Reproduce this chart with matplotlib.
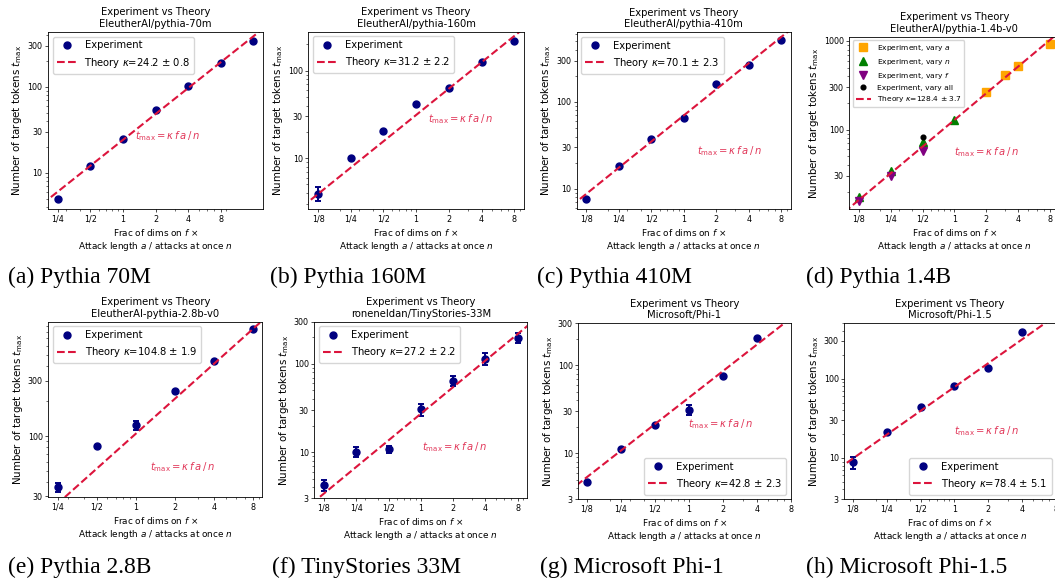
import numpy as np
import matplotlib
matplotlib.use('Agg')
import matplotlib.pyplot as plt
from matplotlib.ticker import NullFormatter

W, H = 1055, 580

x_ticks = [1 / 8, 1 / 4, 1 / 2, 1, 2, 4, 8]
x_tick_labels = ['1/8', '1/4', '1/2', '1', '2', '4', '8']

# (a) pythia-70m
x_70m = [1 / 4, 1 / 2, 1, 2, 4, 8, 16]
y_70m = [5.0, 12.0, 24.7, 53.6, 103, 189, 346]
err_70m = [0, 0, 0, 0, 0, 0, 0]

# (b) pythia-160m
x_160m = [1 / 8, 1 / 4, 1 / 2, 1, 2, 4, 8]
y_160m = [3.94, 10.0, 20.5, 41.2, 63.9, 127, 220]
err_160m = [0.7, 0, 0, 0, 0, 0, 0]

# (c) pythia-410m
x_410m = [1 / 8, 1 / 4, 1 / 2, 1, 2, 4, 8]
y_410m = [7.7, 18.4, 37.7, 65.8, 160, 265, 514]
err_410m = [0, 0, 0, 0, 0, 0, 0]

# (d) pythia-1.4b, several series
x_14b_a = [2, 3, 4, 8]
y_14b_a = [264, 409, 516, 918]
x_14b_n = [1 / 8, 1 / 4, 1 / 2, 1]
y_14b_n = [17.4, 34.1, 72.8, 127]
x_14b_f = [1 / 8, 1 / 4, 1 / 2]
y_14b_f = [15.6, 30.0, 57.0]
x_14b_all = [1 / 2]
y_14b_all = [82]

# (e) pythia-2.8b
x_28b = [1 / 4, 1 / 2, 1, 2, 4, 8]
y_28b = [36, 82.6, 124, 243, 444, 837]
err_28b = [3, 0, 12, 8, 0, 0]

# (f) TinyStories-33M
x_ts = [1 / 8, 1 / 4, 1 / 2, 1, 2, 4, 8]
y_ts = [4.2, 10.0, 10.8, 30.5, 64.4, 114, 196]
err_ts = [0.6, 1.3, 1.0, 5, 8, 17, 26]

# (g) Phi-1
x_phi1 = [1 / 8, 1 / 4, 1 / 2, 1, 2, 4]
y_phi1 = [4.7, 11.1, 21.2, 31.3, 76.1, 202]
err_phi1 = [0, 0, 0, 4.3, 0, 0]

# (h) Phi-1.5
x_phi15 = [1 / 8, 1 / 4, 1 / 2, 1, 2, 4]
y_phi15 = [8.75, 21.0, 43.7, 81.7, 136, 390]
err_phi15 = [1.6, 0, 0, 0, 0, 0]

kappas = [24.2, 31.2, 70.1, 128.4, 104.8, 27.2, 42.8, 78.4]
kappa_errs = [0.8, 2.2, 2.3, 3.7, 1.9, 2.2, 2.3, 5.1]
model_names = ['EleutherAI/pythia-70m', 'EleutherAI/pythia-160m', 'EleutherAI/pythia-410m',
               'EleutherAI/pythia-1.4b-v0', 'EleutherAI-pythia-2.8b-v0',
               'roneneldan/TinyStories-33M', 'Microsoft/Phi-1', 'Microsoft/Phi-1.5']
captions = ['(a) Pythia 70M', '(b) Pythia 160M', '(c) Pythia 410M', '(d) Pythia 1.4B',
            '(e) Pythia 2.8B', '(f) TinyStories 33M', '(g) Microsoft Phi-1', '(h) Microsoft Phi-1.5']
y_tick_sets = [[10, 30, 100, 300], [10, 30, 100, 300], [10, 30, 100, 300, 1000],
               [30, 100, 300, 1000], [30, 100, 300, 1000], [3, 10, 30, 100, 300],
               [3, 10, 30, 100, 300], [3, 10, 30, 100, 300]]
ylims = [(3.8, 436), (2.6, 280), (5.8, 635), (12.6, 1117), (29.5, 975), (3, 300), (3, 300), (3, 500)]
xlims = [None, None, None, None, None, None, (0.105, 8), (0.105, 8)]

# layout, pixels: left, top, right, bottom
ax_boxes = [(48, 32, 263, 209), (308.3, 31.7, 524, 209.3), (576.7, 32.3, 791, 209.3),
            (849.3, 36.7, 1059.5, 209.3), (48.3, 321.7, 262.3, 497.3), (314.3, 321.7, 527.3, 498.3),
            (578.3, 323.3, 790.7, 499.3), (844.3, 323.3, 1056, 499.3)]
formula_pos = [(0.405, 0.414), (0.556, 0.507), (0.56, 0.331), (0.5, 0.334),
               (0.475, 0.171), (0.504, 0.289), (0.518, 0.428), (0.52, 0.39)]
caption_pos = [(8, 283), (270, 283), (537, 283), (805.7, 283),
               (8.3, 573), (272.3, 573), (540, 573), (805.7, 573)]
legend_locs = ['upper left'] * 6 + ['lower right'] * 2

single = {0: (x_70m, y_70m, err_70m), 1: (x_160m, y_160m, err_160m), 2: (x_410m, y_410m, err_410m),
          4: (x_28b, y_28b, err_28b), 5: (x_ts, y_ts, err_ts), 6: (x_phi1, y_phi1, err_phi1),
          7: (x_phi15, y_phi15, err_phi15)}

fig = plt.figure(figsize=(W / 100, H / 100), dpi=100)

for i in range(8):
    l, t, r, b = ax_boxes[i]
    ax = fig.add_axes([l / W, 1 - b / H, (r - l) / W, (b - t) / H])
    ax.set_xscale('log')
    ax.set_yscale('log')
    kappa = kappas[i]
    if i == 3:
        ax.plot(x_14b_a, y_14b_a, 's', color='orange', ms=5.4, label='Experiment, vary $a$')
        ax.plot(x_14b_n, y_14b_n, '^', color='green', ms=5.8, label='Experiment, vary $n$')
        ax.plot(x_14b_f, y_14b_f, 'v', color='purple', ms=5.8, label='Experiment, vary $f$')
        ax.plot(x_14b_all, y_14b_all, 'o', color='black', ms=3.4, label='Experiment, vary all')
        leg_fs = 5.4
    else:
        xs, ys, es = single[i]
        ax.errorbar(xs, ys, yerr=es, fmt='none', ecolor='navy', elinewidth=1.4,
                    capsize=2.4, capthick=1.4)
        ax.plot(xs, ys, 'o', color='navy', ms=5, label='Experiment')
        leg_fs = 7.2

    # x range from the points only (default margins), before the theory line is added
    if xlims[i] is None:
        x0, x1 = ax.get_xlim()
    else:
        x0, x1 = xlims[i]

    xx = np.array([0.01, 100.0])
    ax.plot(xx, kappa * xx, '--', color='crimson', lw=1.5, dashes=(3.7, 1.6),
            label=r'Theory $\kappa$=%s $\pm$ %s' % (kappa, kappa_errs[i]))

    ax.set_xticks(x_ticks, x_tick_labels)
    ax.set_yticks(y_tick_sets[i], [str(v) for v in y_tick_sets[i]])
    ax.xaxis.set_minor_formatter(NullFormatter())
    ax.yaxis.set_minor_formatter(NullFormatter())
    ax.set_xlim(x0, x1)
    ax.set_ylim(*ylims[i])

    ax.tick_params(which='major', length=2, width=0.5, pad=2, labelsize=5.8)
    ax.tick_params(which='minor', length=1.2, width=0.4)
    for sp in ax.spines.values():
        sp.set_linewidth(0.6)

    ax.set_title('Experiment vs Theory\n' + model_names[i], fontsize=7.2, pad=3.6)
    ax.set_ylabel(r'Number of target tokens $t_{\mathrm{max}}$', fontsize=7.4, labelpad=2.3)
    ax.set_xlabel('Frac of dims on $f$ \u00d7\nAttack length $a$ / attacks at once $n$',
                  fontsize=6.4, labelpad=2.3)
    fx, fy = formula_pos[i]
    ax.text(fx, fy, r'$t_{\mathrm{max}} = \kappa\, f\, a\, /\, n$', transform=ax.transAxes,
            color='crimson', alpha=0.85, fontsize=7.2, va='center', ha='left')
    ax.legend(loc=legend_locs[i], fontsize=leg_fs, borderaxespad=0.45)

    cx, cy = caption_pos[i]
    fig.text(cx / W, 1 - cy / H, captions[i], family='Liberation Serif', fontsize=17,
             va='baseline', ha='left')

fig.savefig('out.png', dpi=100)
